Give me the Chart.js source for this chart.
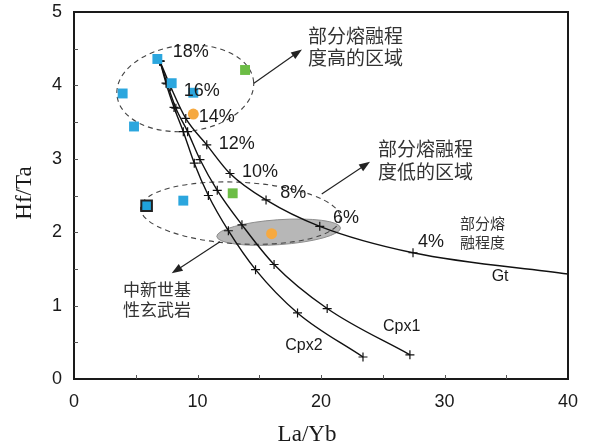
<!DOCTYPE html>
<html>
<head>
<meta charset="utf-8">
<script src="https://cdn.jsdelivr.net/npm/chart.js@4.4.1/dist/chart.umd.min.js"></script>
<style>
  html, body { margin: 0; padding: 0; background: #fff; }
  #wrap { width: 594px; height: 448px; }
</style>
</head>
<body>
<div id="wrap"><canvas id="c" width="594" height="448"></canvas></div>
<script>
// melting curves (18% .. 4%, Gt runs on to the frame)
const gtX = [6.96, 7.83, 9.05, 10.75, 12.63, 15.55, 19.9, 27.45, 40];
const gtY = [4.33, 3.98, 3.55, 3.19, 2.80, 2.44, 2.08, 1.72, 1.43];
const cpx1X = [6.96, 7.55, 8.25, 9.2, 10.2, 11.6, 13.6, 16.2, 20.5, 27.2];
const cpx1Y = [4.33, 4.02, 3.69, 3.37, 2.99, 2.57, 2.10, 1.56, 0.96, 0.33];
const cpx2X = [6.96, 7.45, 8.1, 8.85, 9.74, 10.88, 12.5, 14.7, 18.1, 23.4];
const cpx2Y = [4.33, 4.03, 3.70, 3.37, 2.94, 2.50, 2.02, 1.49, 0.90, 0.30];
const meltLabels = ['18%', '16%', '14%', '12%', '10%', '8%', '6%', '4%'];

// samples
const blueX = [6.75, 3.94, 4.86, 7.91, 9.66, 8.85];
const blueY = [4.36, 3.89, 3.44, 4.03, 3.90, 2.43];
const boxedX = [5.88];
const boxedY = [2.36];
const greenX = [13.85, 12.85];
const greenY = [4.21, 2.53];
const orangeX = [9.66, 16.0];
const orangeY = [3.61, 1.98];

const xTicks = [0, 10, 20, 30, 40];
const yTicks = [0, 1, 2, 3, 4, 5];

function pts(xs, ys) { return xs.map((x, i) => ({ x: x, y: ys[i] })); }

// region outlines, arrows and notes (data units)
const zones = [
  { cx: 9.01, cy: 3.96, rx: 5.56, ry: 0.586, rot: -6, dash: true },
  { cx: 13.48, cy: 2.26, rx: 8.1, ry: 0.42, rot: 3, dash: true }
];
const grayZone = { cx: 16.57, cy: 2.0, rx: 5.02, ry: 0.17, rot: -4 };
const arrows = [
  [14.57, 4.03, 18.46, 4.49],
  [20.06, 2.52, 23.97, 2.96],
  [11.82, 1.87, 7.91, 1.44]
];
const meltPos = [[9.45, 4.46], [10.34, 3.93], [11.55, 3.57], [13.17, 3.20], [15.06, 2.82], [17.76, 2.54], [22.02, 2.19], [28.91, 1.86]];
const curveNames = [['Gt', 34.5, 1.39], ['Cpx1', 26.53, 0.71], ['Cpx2', 18.62, 0.45]];
const cjkNotes = [
  { lines: ['部分熔融程', '度高的区域'], x: 308, y: 36, size: 19, gap: 22 },
  { lines: ['部分熔融程', '度低的区域'], x: 378, y: 149, size: 19, gap: 23 },
  { lines: ['部分熔', '融程度'], x: 460, y: 223, size: 15, gap: 19 },
  { lines: ['中新世基', '性玄武岩'], x: 123, y: 290, size: 17, gap: 20 }
];

const sans = '"Liberation Sans", Arial, sans-serif';
const cjk = '"Noto Sans CJK SC", sans-serif';

function ellipse(ctx, xs, ys, z) {
  const cx = xs.getPixelForValue(z.cx), cy = ys.getPixelForValue(z.cy);
  const rx = Math.abs(xs.getPixelForValue(z.cx + z.rx) - cx);
  const ry = Math.abs(ys.getPixelForValue(z.cy + z.ry) - cy);
  ctx.beginPath();
  ctx.ellipse(cx, cy, rx, ry, z.rot * Math.PI / 180, 0, Math.PI * 2);
}

const decor = {
  id: 'decor',
  beforeDatasetsDraw(chart) {
    const ctx = chart.ctx, xs = chart.scales.x, ys = chart.scales.y;
    ctx.save();
    ellipse(ctx, xs, ys, grayZone);
    ctx.fillStyle = '#b7b7b7';
    ctx.fill();
    ctx.strokeStyle = '#8e8e8e';
    ctx.lineWidth = 1;
    ctx.stroke();
    ctx.setLineDash([5, 4]);
    ctx.strokeStyle = '#444';
    ctx.lineWidth = 1.1;
    zones.forEach(z => { ellipse(ctx, xs, ys, z); ctx.stroke(); });
    ctx.restore();
  },
  afterDatasetsDraw(chart) {
    const ctx = chart.ctx, xs = chart.scales.x, ys = chart.scales.y;
    const a = chart.chartArea;
    ctx.save();
    // arrows
    ctx.strokeStyle = '#222';
    ctx.fillStyle = '#222';
    ctx.lineWidth = 1.2;
    arrows.forEach(r => {
      const x1 = xs.getPixelForValue(r[0]), y1 = ys.getPixelForValue(r[1]);
      const x2 = xs.getPixelForValue(r[2]), y2 = ys.getPixelForValue(r[3]);
      const ang = Math.atan2(y2 - y1, x2 - x1);
      ctx.beginPath();
      ctx.moveTo(x1, y1);
      ctx.lineTo(x2 - 8 * Math.cos(ang), y2 - 8 * Math.sin(ang));
      ctx.stroke();
      ctx.beginPath();
      ctx.moveTo(x2, y2);
      ctx.lineTo(x2 - 11 * Math.cos(ang) + 4 * Math.sin(ang), y2 - 11 * Math.sin(ang) - 4 * Math.cos(ang));
      ctx.lineTo(x2 - 11 * Math.cos(ang) - 4 * Math.sin(ang), y2 - 11 * Math.sin(ang) + 4 * Math.cos(ang));
      ctx.closePath();
      ctx.fill();
    });
    // percent labels and curve names
    ctx.fillStyle = '#1a1a1a';
    ctx.textAlign = 'center';
    ctx.textBaseline = 'middle';
    ctx.font = '18px ' + sans;
    meltLabels.forEach((t, i) => {
      ctx.fillText(t, xs.getPixelForValue(meltPos[i][0]), ys.getPixelForValue(meltPos[i][1]));
    });
    ctx.font = '16px ' + sans;
    curveNames.forEach(c => ctx.fillText(c[0], xs.getPixelForValue(c[1]), ys.getPixelForValue(c[2])));
    // chinese notes
    ctx.textAlign = 'left';
    ctx.fillStyle = '#333';
    cjkNotes.forEach(n => {
      ctx.font = n.size + 'px ' + cjk;
      n.lines.forEach((l, i) => ctx.fillText(l, n.x, n.y + i * n.gap));
    });
    // frame and inward ticks
    ctx.strokeStyle = '#1a1a1a';
    ctx.lineWidth = 2;
    ctx.strokeRect(a.left, a.top, a.right - a.left, a.bottom - a.top);
    ctx.lineWidth = 1;
    ctx.strokeStyle = '#555';
    for (let v = 5; v < 40; v += 5) {
      const px = Math.round(xs.getPixelForValue(v)) + 0.5;
      ctx.beginPath(); ctx.moveTo(px, a.bottom); ctx.lineTo(px, a.bottom - 4); ctx.stroke();
    }
    for (let v = 0.5; v < 5; v += 0.5) {
      const py = Math.round(ys.getPixelForValue(v)) + 0.5;
      ctx.beginPath(); ctx.moveTo(a.left, py); ctx.lineTo(a.left + 4, py); ctx.stroke();
    }
    // axis titles
    ctx.fillStyle = '#1a1a1a';
    ctx.font = '23px "Liberation Serif", "Times New Roman", serif';
    ctx.textAlign = 'center';
    ctx.textBaseline = 'middle';
    ctx.fillText('La/Yb', 307, 435);
    ctx.translate(25, 193);
    ctx.rotate(-Math.PI / 2);
    ctx.fillText('Hf/Ta', 0, 0);
    ctx.restore();
  }
};

function curve(label, xs, ys) {
  return {
    label: label,
    data: pts(xs, ys),
    showLine: true,
    borderColor: '#111',
    borderWidth: 1.4,
    cubicInterpolationMode: 'monotone',
    pointStyle: 'cross',
    pointRadius: c => (label === 'Gt' && c.dataIndex === xs.length - 1) ? 0 : 4.5,
    pointBorderColor: '#111',
    pointBorderWidth: 1.2,
    order: 2
  };
}

new Chart(document.getElementById('c'), {
  type: 'scatter',
  data: {
    datasets: [
      curve('Gt', gtX, gtY),
      curve('Cpx1', cpx1X, cpx1Y),
      curve('Cpx2', cpx2X, cpx2Y),
      { label: 'blue', data: pts(blueX, blueY), pointStyle: 'rect', pointRadius: 7, backgroundColor: '#2ba6de', borderWidth: 0, order: 1 },
      { label: 'boxed', data: pts(boxedX, boxedY), pointStyle: 'rect', pointRadius: 7.5, backgroundColor: '#1fa3dc', borderColor: '#222', borderWidth: 2, order: 1 },
      { label: 'green', data: pts(greenX, greenY), pointStyle: 'rect', pointRadius: 7, backgroundColor: '#6cbd45', borderWidth: 0, order: 1 },
      { label: 'orange', data: pts(orangeX, orangeY), pointStyle: 'circle', pointRadius: 5.5, backgroundColor: '#f6a940', borderWidth: 0, order: 1 }
    ]
  },
  options: {
    responsive: false,
    animation: false,
    layout: { padding: { top: 12, right: 26, left: 0, bottom: 0 } },
    plugins: { legend: { display: false }, tooltip: { enabled: false } },
    scales: {
      x: {
        type: 'linear', min: 0, max: 40,
        afterBuildTicks: s => { s.ticks = xTicks.map(v => ({ value: v })); },
        afterFit: s => { s.height = 69; s.paddingLeft = 0; s.paddingRight = 0; },
        grid: { display: false, drawTicks: false },
        border: { display: false },
        ticks: { padding: 12, color: '#1a1a1a', font: { family: sans, size: 18 }, maxRotation: 0 }
      },
      y: {
        type: 'linear', min: 0, max: 5,
        afterBuildTicks: s => { s.ticks = yTicks.map(v => ({ value: v })); },
        afterFit: s => { s.width = 74; s.paddingTop = 0; s.paddingBottom = 0; },
        grid: { display: false, drawTicks: false },
        border: { display: false },
        ticks: { padding: 12, color: '#1a1a1a', font: { family: sans, size: 18 } }
      }
    }
  },
  plugins: [decor]
});
</script>
</body>
</html>
